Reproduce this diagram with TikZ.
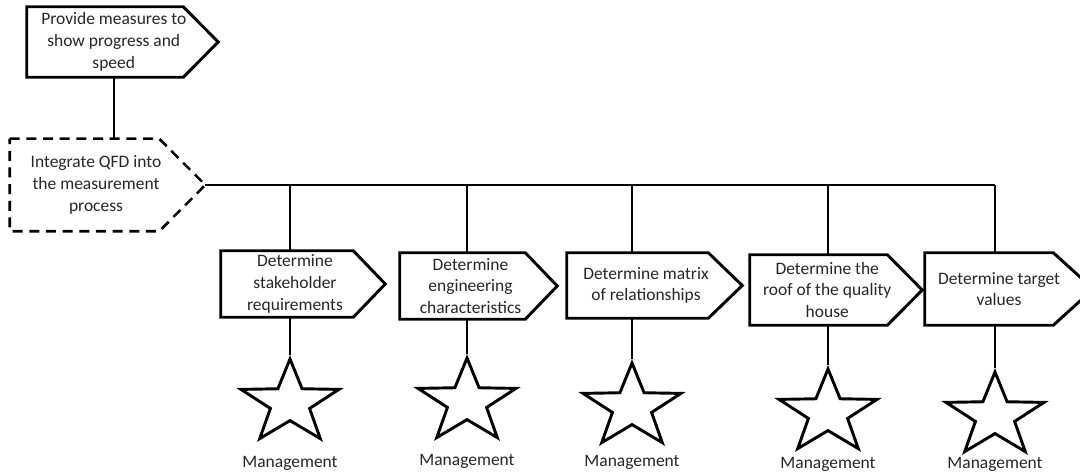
\documentclass[tikz,border=0pt]{standalone}
\usepackage{fontspec}
\setmainfont{Carlito}
\usetikzlibrary{shapes.geometric,calc}
\newcommand\tipoutline[3][]{\draw[outl,#1] (#2.north west) -- ([xshift=-#3]#2.north east) -- ([xshift=#3]#2.east) -- ([xshift=-#3]#2.south east) -- (#2.south west) -- cycle;}
\begin{document}
\begin{tikzpicture}[x=0.75pt,y=-0.75pt,
  txt/.style={font=\fontsize{13.1}{16.3}\selectfont, text=black!85, align=center},
  box/.style={txt, inner sep=0pt, draw=none, shape=rectangle},
  outl/.style={line width=2.2pt, line join=miter, black},
  dashbox/.style={line width=1.9pt, dash pattern=on 7.5pt off 5pt},
  conn/.style={line width=1.6pt, black},
  starshape/.style={star, star points=5, star point ratio=2.5, minimum size=66pt, inner sep=0pt, draw, line width=2.2pt, line join=miter},
  lbl/.style={txt, inner sep=0pt}]
\useasboundingbox (0,0) rectangle (1080,473);

% boxes
\node[box, minimum width=130.1pt, minimum height=52.5pt] (n0) at (113.75,42) {Provide measures to\\show progress and\\speed};
\node[box, minimum width=129pt, minimum height=69pt] (d) at (96,185) {Integrate QFD into\\the measurement\\process};
\node[box, minimum width=111pt, minimum height=49.5pt] (b1) at (295,284) {Determine\\stakeholder\\requirements};
\node[box, minimum width=105.75pt, minimum height=49.5pt] (b2) at (470.5,286) {Determine\\engineering\\characteristics};
\node[box, minimum width=118.5pt, minimum height=48.75pt] (b3) at (646,285.5) {Determine matrix\\of relationships};
\node[box, minimum width=115.9pt, minimum height=52.5pt] (b4) at (827.25,290) {Determine the\\roof of the quality\\house};
\node[box, minimum width=111pt, minimum height=54pt] (b5) at (999,289) {Determine target\\values};

\tipoutline{n0}{13.1pt}
\tipoutline[dashbox]{d}{17.25pt}
\tipoutline{b1}{12pt}
\tipoutline{b2}{12pt}
\tipoutline{b3}{12.75pt}
\tipoutline{b4}{13.1pt}
\tipoutline{b5}{15pt}

% stars
\begin{scope}[shift={(290,403)}, xscale=1.17, transform shape]
  \node[starshape] (s1) at (0,0) {};
\end{scope}
\begin{scope}[shift={(467,402)}, xscale=1.17, transform shape]
  \node[starshape] (s2) at (0,0) {};
\end{scope}
\begin{scope}[shift={(632,407)}, xscale=1.17, transform shape]
  \node[starshape] (s3) at (0,0) {};
\end{scope}
\begin{scope}[shift={(828,413)}, xscale=1.17, transform shape]
  \node[starshape] (s4) at (0,0) {};
\end{scope}
\begin{scope}[shift={(995,416)}, xscale=1.17, transform shape]
  \node[starshape] (s5) at (0,0) {};
\end{scope}

% labels
\node[lbl] (m1) at (290,463) {Management};
\node[lbl] (m2) at (467,461) {Management};
\node[lbl] (m3) at (632,462) {Management};
\node[lbl] (m4) at (828,464) {Management};
\node[lbl] (m5) at (995,464) {Management};

% connectors
\coordinate (dtip) at ([xshift=17.25pt]d.east);
\draw[conn] (n0.south) -- (n0.south |- d.north);
\draw[conn] (dtip) -- (dtip -| s5.north);
\foreach \k in {1,...,5}{
  \draw[conn] (s\k.north |- dtip) -- (s\k.north |- b\k.north);
  \draw[conn] (s\k.north |- b\k.south) -- (s\k.north);
}
\end{tikzpicture}
\end{document}
